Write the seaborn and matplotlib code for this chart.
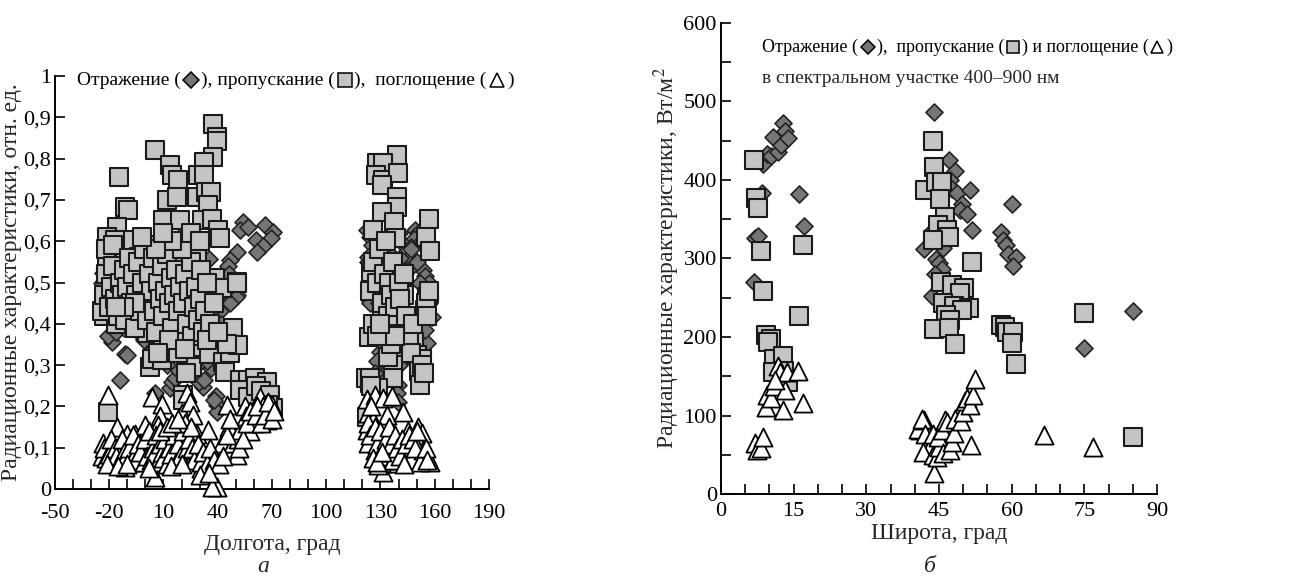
import numpy as np
import pandas as pd
import matplotlib
matplotlib.use("Agg")
import matplotlib.pyplot as plt
import seaborn as sns
from matplotlib.ticker import FixedLocator, MultipleLocator, FuncFormatter
from matplotlib.offsetbox import TextArea, DrawingArea, HPacker, AnchoredOffsetbox
from matplotlib.lines import Line2D

# ---------------- Panel a: longitude ----------------
lon_refl = [21.9, 20.5, 35.3, 50.8, 46.8, 45.5, 50.6, 54.2, 52.4, 56.9, 66.2, 70.4, 69.3, 61.2, 65.2, 61.9,
            -23.3, 22.0, 24.0, 29.8,
            122.4, 124.2, 125.1, 129.8, 123.3, 133.4, 136.6, 133.4, 124.5, 149.1, 151.0, 148.3, 146.7, 145.4,
            140.1, 140.6, 153.7, 154.6, 155.6, 139.9, 141.5,
            -14.1, -18.7, -20.5, -11.3, -10.4, -16.5, 5.3, 39.4, 39.1, 39.4, 37.9, 32.0, 29.8, 36.1, 32.3, 28.4,
            13.6, 14.5, 16.2, 18.0, 11.2, 9.9, 41.3, 40.3, 50.1, 36.2, 19.5, 24.7,
            124.2, 129.8, 130.7, 131.6, 139.9, 139.4, 139.9, 155.6, 154.6, 158.3, 157.0, 134.0, 143.0, 128.0, 142.2,
            -24, -21, -18, -15, -12, -10, -7, -4, -2, 0, 2, 5, 7, 8, 11, 13, 16, 17, 19, 21, 23, 24, 26, 27, 29,
            31, 33, 35, 37, 38, 42, 44, 46, 47, 22, 20, 26, 30, 34, 12, 15, -6, -1, 4, 9,
            123, 127, 129, 132, 135, 137, 138, 141, 143, 144, 145, 147, 150, 152, 153, 156, 157, 134, 130, 136, 140, 127]
val_refl = [0.623, 0.606, 0.558, 0.575, 0.555, 0.540, 0.470, 0.647, 0.628, 0.635, 0.639, 0.623, 0.609, 0.603, 0.588, 0.573,
            0.522, 0.495, 0.505, 0.498,
            0.627, 0.610, 0.590, 0.587, 0.563, 0.566, 0.565, 0.470, 0.455, 0.627, 0.620, 0.605, 0.587, 0.559,
            0.620, 0.600, 0.530, 0.516, 0.494, 0.534, 0.537,
            0.264, 0.357, 0.370, 0.328, 0.324, 0.380, 0.232, 0.203, 0.225, 0.187, 0.215, 0.248, 0.260, 0.292, 0.263, 0.300,
            0.244, 0.260, 0.270, 0.287, 0.334, 0.357, 0.430, 0.373, 0.466, 0.430, 0.357, 0.310,
            0.450, 0.332, 0.284, 0.277, 0.252, 0.233, 0.211, 0.353, 0.385, 0.417, 0.500, 0.470, 0.455, 0.310, 0.363,
            0.50, 0.45, 0.41, 0.47, 0.39, 0.52, 0.44, 0.38, 0.48, 0.55, 0.42, 0.50, 0.58, 0.40, 0.45, 0.52, 0.41, 0.58,
            0.50, 0.44, 0.55, 0.38, 0.50, 0.42, 0.47, 0.39, 0.44, 0.51, 0.36, 0.47, 0.40, 0.48, 0.52, 0.45, 0.60, 0.57,
            0.34, 0.33, 0.31, 0.30, 0.33, 0.40, 0.36, 0.34, 0.37,
            0.55, 0.52, 0.45, 0.50, 0.55, 0.48, 0.42, 0.56, 0.50, 0.40, 0.53, 0.58, 0.55, 0.50, 0.60, 0.58, 0.45, 0.38,
            0.36, 0.30, 0.30, 0.28]

lon_trans = [-14.4, 5.3, -11.3, -9.5, -15.5, -21.1, -16.8, -6.7, -12.6, -21.0, -3.7, -1.2, -16.8, -7.6,
             13.6, 14.5, 18.2, 11.8, 17.3, 9.9, 19.1, 8.1, 15.4, 15.4, 28.4, 27.9,
             37.6, 39.4, 39.4, 37.6, 32.4, 29.3, 32.2, 28.8, 33.3, 36.3, 34.8, 31.1, 36.8, 40.3, 41.3, 38.5, 42.2, 50.5, 36.3,
             139.3, 127.9, 131.2, 127.3, 131.6, 139.9, 130.8, 139.3, 139.0, 130.7, 137.5, 157.0, 138.6, 155.2, 157.4,
             126.0, 132.0, 124.6, 140.8, 132.4, 142.3, 156.6,
             -20.5, -22.9, -21.0, -16.5, -10.5, -5.1, 0.7, 2.5, 3.4, 9.0, 9.9, 4.8, 16.7, 22.0, 26.5, 25.6, 22.3, 20.6, 20.6,
             35.3, 43.1, 44.0, 46.8, 48.6, 51.4, 45.4, 28.5, 12.0, 42.2, 50.5,
             52.3, 56.9, 60.6, 67.1, 52.3, 56.9, 61.4, 64.2, 68.9, 70.7, 68.0,
             123.8, 126.0, 130.7, 133.4, 136.2, 139.0, 137.1, 136.8, 137.1, 122.0, 124.2, 128.8, 122.4, 143.1, 145.9,
             148.6, 150.4, 152.8, 151.3, 152.0, 154.6, 155.5, 134.7,
             -24, -23, -22, -22, -20, -19, -18, -18, -17, -15, -14, -13, -12, -11, -10, -9, -8, -7, -6, -5, -4, -3, -2,
             -1, 0, 1, 2, 3, 4, 5, 6, 7, 8, 9, 10, 11, 12, 13, 14, 15, 16, 17, 18, 19, 20, 21, 22, 23, 24, 25, 26, 27,
             28, 29, 30, 31, 32, 33, 34, 20, 15, 6, -2, 10, 25, 30, -6, 18, 13, 7, -12, -16, 22, 36, 38, 34, 40,
             124, 126, 128, 129, 131, 132, 133, 134, 135, 136, 137, 138, 140, 141, 143, 144, 146, 147, 148, 153, 154,
             155, 156, 157, 124, 125, 134, 136, 138, 128, 130]
val_trans = [0.756, 0.821, 0.683, 0.675, 0.635, 0.610, 0.603, 0.603, 0.558, 0.556, 0.562, 0.534, 0.523, 0.506,
             0.785, 0.761, 0.748, 0.700, 0.708, 0.651, 0.651, 0.591, 0.591, 0.567, 0.558, 0.523,
             0.885, 0.853, 0.843, 0.805, 0.792, 0.760, 0.760, 0.708, 0.720, 0.720, 0.688, 0.651, 0.655, 0.627, 0.609, 0.510,
             0.486, 0.502, 0.480,
             0.809, 0.789, 0.790, 0.760, 0.748, 0.764, 0.736, 0.708, 0.684, 0.671, 0.647, 0.655, 0.609, 0.611, 0.577,
             0.627, 0.542, 0.526, 0.514, 0.500, 0.474, 0.474,
             0.187, 0.420, 0.465, 0.400, 0.440, 0.420, 0.377, 0.296, 0.315, 0.312, 0.370, 0.445, 0.440, 0.430, 0.345,
             0.296, 0.280, 0.228, 0.215,
             0.328, 0.308, 0.284, 0.330, 0.389, 0.349, 0.350, 0.400, 0.500, 0.486, 0.500,
             0.264, 0.264, 0.268, 0.260, 0.240, 0.224, 0.250, 0.237, 0.228, 0.195, 0.203,
             0.369, 0.400, 0.430, 0.395, 0.380, 0.405, 0.337, 0.300, 0.268, 0.268, 0.256, 0.245, 0.175, 0.470, 0.380,
             0.355, 0.325, 0.316, 0.285, 0.252, 0.433, 0.465, 0.457,
             0.43, 0.47, 0.52, 0.58, 0.44, 0.49, 0.54, 0.59, 0.46, 0.42, 0.50, 0.47, 0.53, 0.41, 0.49, 0.56, 0.45, 0.52,
             0.39, 0.47, 0.55, 0.43, 0.50, 0.58, 0.45, 0.41, 0.52, 0.48, 0.56, 0.43, 0.38, 0.50, 0.46, 0.54, 0.42, 0.48,
             0.57, 0.45, 0.51, 0.39, 0.47, 0.53, 0.43, 0.49, 0.36, 0.45, 0.52, 0.40, 0.48, 0.55, 0.37, 0.44, 0.49, 0.41,
             0.46, 0.53, 0.38, 0.43, 0.50, 0.58, 0.60, 0.58, 0.61, 0.62, 0.62, 0.60, 0.45, 0.33, 0.36, 0.33, 0.44, 0.44,
             0.34, 0.40, 0.45, 0.36, 0.38,
             0.48, 0.55, 0.50, 0.58, 0.45, 0.52, 0.60, 0.42, 0.50, 0.47, 0.55, 0.44, 0.50, 0.46, 0.52, 0.42, 0.36, 0.33,
             0.40, 0.30, 0.28, 0.45, 0.42, 0.48, 0.27, 0.25, 0.32, 0.35, 0.37, 0.37, 0.40]

lon_abs = [-20.5, -23.3, -15.9, -21.3, -19.5, -15.7, -11.3, -10.3, -6.6, -5.7, -3.0, -0.2, 1.6, 5.3, 3.5, 9.0, 8.1,
           7.2, 13.6, 15.4, 12.7, 20.1, 22.8, 24.7, 26.5, 28.4, 19.3, 20.1, 34.8, 35.7, 39.4, 37.0, 30.6, 33.4, 40.3,
           42.2, 45.0, 46.1, 48.6, 50.5, 51.5, 52.3, 55.1, 55.9, 57.7, 59.6, 60.6, 63.4, 65.2, 67.0, 69.8, 67.0,
           122.4, 126.9, 131.6, 136.2, 123.3, 126.0, 133.4, 122.4, 129.8, 137.1, 142.6, 123.3, 127.0, 131.5, 131.5,
           128.8, 139.9, 134.3, 140.8, 145.4, 146.3, 151.0, 152.8, 150.1, 153.7, 155.6, 157.4, 152.0,
           -24, -23, -22, -20, -19, -18, -17, -16, -14, -13, -12, -11, -9, -8, -7, -6, -5, -4, -3, -1, 0, 1, 2, 3, 4,
           5, 6, 7, 8, 9, 10, 11, 12, 13, 14, 16, 17, 18, 19, 21, 22, 23, 24, 25, 26, 27, 29, 31, 32, 34, 36, 38, 41,
           43, 45, 47, 52, 54, 56, 58, 61, 62, 64, 66, 68, 70, 71, -21, -15, -10, 2, 14, 20, 30, 35, 8, 12, 15, 18,
           123, 124, 125, 127, 128, 129, 130, 132, 133, 134, 135, 136, 137, 138, 139, 141, 142, 143, 144, 146, 148,
           149, 150, 126, 128, 131, 155, 156]
val_abs = [0.228, 0.111, 0.151, 0.095, 0.070, 0.086, 0.054, 0.134, 0.111, 0.134, 0.070, 0.155, 0.095, 0.030, 0.224,
           0.205, 0.178, 0.155, 0.111, 0.070, 0.134, 0.183, 0.232, 0.210, 0.180, 0.134, 0.095, 0.127, 0.143, 0.080,
           0.006, 0.005, 0.050, 0.047, 0.085, 0.111, 0.203, 0.151, 0.111, 0.083, 0.120, 0.143, 0.200, 0.176, 0.140,
           0.190, 0.160, 0.224, 0.200, 0.167, 0.203, 0.190,
           0.219, 0.228, 0.220, 0.225, 0.185, 0.167, 0.180, 0.143, 0.127, 0.135, 0.187, 0.111, 0.095, 0.062, 0.042,
           0.058, 0.062, 0.070, 0.100, 0.140, 0.120, 0.150, 0.135, 0.120, 0.095, 0.080, 0.066, 0.066,
           0.08, 0.10, 0.075, 0.085, 0.12, 0.065, 0.10, 0.08, 0.07, 0.12, 0.09, 0.075, 0.10, 0.065, 0.13, 0.085, 0.07,
           0.11, 0.09, 0.065, 0.12, 0.08, 0.14, 0.07, 0.10, 0.085, 0.13, 0.065, 0.11, 0.09, 0.075, 0.12, 0.06, 0.10,
           0.085, 0.13, 0.065, 0.11, 0.08, 0.14, 0.16, 0.10, 0.12, 0.15, 0.10, 0.07, 0.11, 0.065, 0.09, 0.06, 0.10,
           0.07, 0.06, 0.08, 0.13, 0.17, 0.10, 0.12, 0.16, 0.19, 0.18, 0.20, 0.16, 0.18, 0.21, 0.17, 0.19, 0.06,
           0.055, 0.06, 0.05, 0.055, 0.06, 0.035, 0.04, 0.14, 0.15, 0.16, 0.17,
           0.16, 0.13, 0.20, 0.15, 0.11, 0.08, 0.14, 0.10, 0.12, 0.09, 0.15, 0.11, 0.07, 0.13, 0.10, 0.08, 0.12, 0.06,
           0.11, 0.13, 0.12, 0.10, 0.14, 0.075, 0.065, 0.09, 0.10, 0.07]

# ---------------- Panel б: latitude ----------------
lat_refl = [6.8, 8.4, 7.0, 7.7, 8.7, 9.4, 10.3, 10.8, 11.7, 12.3, 12.9, 13.2, 13.8, 16.2, 17.1,
            44.0, 47.1, 48.3, 47.3, 47.6, 48.7, 51.3, 49.7, 49.4, 50.7, 51.8, 43.8, 42.0, 45.9, 44.4, 45.1, 45.6,
            44.2, 43.6, 60.1, 57.7, 58.3, 58.8, 59.3, 60.9, 60.3, 75.0, 85.1]
w_refl = [270, 384, 326, 329, 420, 433, 430, 455, 436, 444, 473, 462, 454, 382, 341,
          486, 426, 412, 400, 388, 383, 387, 370, 362, 357, 336, 336, 312, 313, 299, 294, 287,
          280, 252, 369, 334, 324, 317, 306, 302, 290, 186, 233]

lat_trans = [6.8, 7.2, 7.7, 8.3, 8.7, 17.0, 43.7, 44.0, 42.1, 44.4, 45.6, 45.2, 46.2, 44.7, 46.6, 47.1, 43.8,
             51.8, 45.4, 47.6, 50.2, 16.1, 9.2, 10.3, 9.8, 10.9, 12.7, 10.7, 13.0, 13.9,
             49.4, 45.9, 48.0, 51.1, 49.7, 46.4, 47.3, 44.0, 47.1, 48.3,
             57.9, 58.6, 59.1, 60.3, 60.0, 60.9, 75.0, 85.1]
w_trans = [425, 377, 364, 310, 258, 317, 450, 416, 387, 397, 398, 376, 353, 343, 336, 327, 323,
           295, 270, 266, 263, 227, 203, 197, 193, 172, 176, 156, 157, 143,
           256, 243, 239, 237, 235, 228, 222, 210, 212, 191,
           215, 213, 206, 207, 192, 165, 230, 72]

lat_abs = [7.0, 7.5, 8.2, 8.7, 9.3, 9.6, 10.3, 10.9, 11.7, 12.2, 12.7, 13.2, 13.6, 16.0, 17.0, 11.1,
           41.1, 40.6, 42.0, 41.4, 42.1, 43.1, 41.8, 43.8, 44.0, 43.7, 44.5, 45.1, 44.8, 45.7, 46.2, 46.7, 45.9,
           47.3, 47.7, 48.1, 48.3, 49.6, 49.9, 50.4, 50.8, 51.3, 52.0, 52.4, 51.6, 66.7, 76.7]
w_abs = [65, 56, 58, 73, 111, 126, 122, 138, 163, 156, 107, 132, 156, 157, 116, 145,
         82, 83, 94, 95, 76, 60, 53, 76, 27, 50, 47, 60, 72, 81, 94, 92, 52,
         56, 66, 78, 96, 93, 104, 119, 122, 114, 126, 146, 62, 75, 60]

SERIF = ["Liberation Serif", "DejaVu Serif"]
sns.set_theme(style="white")
plt.rcParams["font.family"] = SERIF
plt.rcParams["mathtext.fontset"] = "stix"
plt.rcParams["axes.unicode_minus"] = False

fig = plt.figure(figsize=(12.9, 5.79), dpi=100)
axL = fig.add_axes([0.0426, 0.1554, 0.3364, 0.7133])
axR = fig.add_axes([0.5589, 0.1468, 0.338, 0.8135])

C_REFL = "#767676"
C_TRANS = "#c4c4c4"
C_ABS = "#ffffff"

def draw(ax, x_r, y_r, x_t, y_t, x_a, y_a):
    sns.scatterplot(x=x_r, y=y_r, ax=ax, marker="D", s=75, color=C_REFL,
                    edgecolor="#222222", linewidth=1.2, zorder=3, legend=False)
    sns.scatterplot(x=x_t, y=y_t, ax=ax, marker="s", s=150, color=C_TRANS,
                    edgecolor="#1a1a1a", linewidth=1.5, zorder=4, legend=False)
    sns.scatterplot(x=x_a, y=y_a, ax=ax, marker="^", s=170, color=C_ABS,
                    edgecolor="#000000", linewidth=1.3, zorder=5, legend=False)

draw(axL, lon_refl, val_refl, lon_trans, val_trans, lon_abs, val_abs)
draw(axR, lat_refl, w_refl, lat_trans, w_trans, lat_abs, w_abs)

for ax in (axL, axR):
    for s in ("top", "right"):
        ax.spines[s].set_visible(False)
    for s in ("left", "bottom"):
        ax.spines[s].set_color("black")
        ax.spines[s].set_linewidth(1.4)
    ax.set_facecolor("white")
    ax.grid(False)
    ax.tick_params(which="both", direction="in", length=7, width=1.2, colors="black",
                   labelsize=16, left=True, bottom=True)
    ax.tick_params(axis="y", pad=3)
    for lab in ax.get_xticklabels() + ax.get_yticklabels():
        lab.set_family(SERIF)
    for coll in ax.collections:
        coll.set_clip_on(False)

# Left axes
axL.set_xlim(-50, 190)
axL.set_ylim(0, 1)
axL.tick_params(axis="x", pad=11)
axL.xaxis.set_major_locator(FixedLocator(list(range(-50, 191, 30))))
axL.xaxis.set_minor_locator(MultipleLocator(10))
axL.yaxis.set_major_locator(FixedLocator([i / 10 for i in range(11)]))
axL.yaxis.set_major_formatter(FuncFormatter(
    lambda v, p: "0" if abs(v) < 1e-9 else ("1" if abs(v - 1) < 1e-9 else f"{v:.1f}".replace(".", ","))))
axL.set_xlabel("Долгота, град", fontsize=17, labelpad=8, family=SERIF)
axL.set_ylabel("Радиационные характеристики, отн. ед.", fontsize=17, labelpad=1, family=SERIF)

# Right axes
axR.set_xlim(0, 90)
axR.set_ylim(0, 600)
axR.tick_params(axis="x", pad=6)
axR.xaxis.set_major_locator(MultipleLocator(15))
axR.xaxis.set_minor_locator(MultipleLocator(5))
axR.yaxis.set_major_locator(MultipleLocator(100))
axR.yaxis.set_minor_locator(MultipleLocator(50))
axR.set_xlabel("Широта, град", fontsize=17, labelpad=1, family=SERIF)
axR.set_ylabel("Радиационные характеристики, Вт/м$^2$", fontsize=17, labelpad=1, family=SERIF)

# Legend-like captions with marker symbols
def marker_box(marker, face, size, w):
    da = DrawingArea(w, 12, 0, 0)
    ln = Line2D([w / 2], [6], marker=marker, markersize=size, markerfacecolor=face,
                markeredgecolor="black", markeredgewidth=1.1, linestyle="none")
    da.add_artist(ln)
    return da

def caption(ax, parts, xy, fs):
    items = []
    for p in parts:
        if isinstance(p, str):
            items.append(TextArea(p, textprops=dict(fontsize=fs, family=SERIF, color="black")))
        else:
            items.append(marker_box(*p))
    box = HPacker(children=items, align="center", pad=0, sep=0)
    anch = AnchoredOffsetbox(loc="center left", child=box, pad=0, frameon=False,
                             bbox_to_anchor=xy, bbox_transform=ax.transAxes, borderpad=0)
    ax.add_artist(anch)

caption(axL, ["Отражение (", ("D", C_REFL, 8, 15), "), пропускание (", ("s", C_TRANS, 10, 14),
              "),  поглощение (", ("^", "white", 10, 15), ")"], (0.05, 0.99), 14)
caption(axR, ["Отражение (", ("D", C_REFL, 7, 14), "),  пропускание (", ("s", C_TRANS, 9, 12),
              ") и поглощение (", ("^", "white", 9, 13), ")"], (0.094, 0.949), 13)
axR.text(0.094, 0.883, "в спектральном участке 400–900 нм", transform=axR.transAxes,
         fontsize=14, family=SERIF, va="center", ha="left")

fig.text(263 / 1290, 1 - 567 / 579, "а", fontsize=17, style="italic", family=SERIF, ha="center", va="center")
fig.text(930 / 1290, 1 - 567 / 579, "б", fontsize=17, style="italic", family=SERIF, ha="center", va="center")

fig.savefig("out.png", dpi=100, facecolor="white")
